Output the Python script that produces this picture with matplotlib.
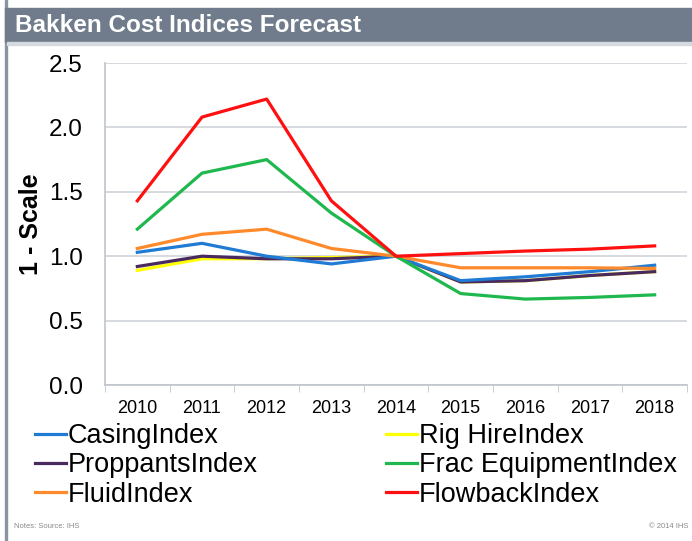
import matplotlib
matplotlib.use('Agg')
import matplotlib.pyplot as plt
from matplotlib.patches import Rectangle
from matplotlib.lines import Line2D

plt.rcParams['font.family'] = ['Liberation Sans', 'DejaVu Sans']

years = ['2010', '2011', '2012', '2013', '2014', '2015', '2016', '2017', '2018']
rig_hire = [0.89, 0.98, 0.98, 0.99, 1.00, 0.80, 0.81, 0.85, 0.88]
proppants = [0.92, 1.00, 0.98, 0.98, 1.00, 0.80, 0.81, 0.85, 0.88]
casing = [1.03, 1.10, 1.00, 0.94, 1.00, 0.81, 0.84, 0.88, 0.93]
fluid = [1.06, 1.17, 1.21, 1.06, 1.00, 0.91, 0.91, 0.91, 0.905]
frac = [1.21, 1.645, 1.75, 1.335, 1.00, 0.71, 0.667, 0.68, 0.70]
flowback = [1.43, 2.08, 2.22, 1.43, 1.00, 1.02, 1.04, 1.055, 1.08]

W, H = 692, 541
fig = plt.figure(figsize=(W / 100, H / 100), dpi=100)

# frame and title bar
fig.patches.append(Rectangle((5 / W, 0), 2 / W, 1, transform=fig.transFigure,
                             color='#8a95a3', zorder=0))
fig.patches.append(Rectangle((5 / W, 1 - 42 / H), 1, 34 / H, transform=fig.transFigure,
                             color='#707c8b', zorder=1))
fig.patches.append(Rectangle((7 / W, 1 - 45 / H), 1, 3 / H, transform=fig.transFigure,
                             color='#d5dae0', zorder=1))
fig.text(15 / W, 1 - 25 / H, 'Bakken Cost Indices Forecast', color='white',
         fontsize=17.5, fontweight='bold', va='center', ha='left')

ax = fig.add_axes([105 / W, (H - 385) / H, (687 - 105) / W, (385 - 63) / H])
x = range(len(years))
ax.plot(x, rig_hire, color='#ffff00', lw=2.3, label='Rig HireIndex')
ax.plot(x, proppants, color='#4a2a5e', lw=2.3, label='ProppantsIndex')
ax.plot(x, casing, color='#1f7bd3', lw=2.3, label='CasingIndex')
ax.plot(x, fluid, color='#ff8a2b', lw=2.3, label='FluidIndex')
ax.plot(x, frac, color='#1fb84e', lw=2.3, label='Frac EquipmentIndex')
ax.plot(x, flowback, color='#ff1010', lw=2.3, label='FlowbackIndex')

ax.set_xlim(-0.5, len(years) - 0.5)
ax.set_ylim(0, 2.5)
ax.set_yticks([0, 0.5, 1.0, 1.5, 2.0, 2.5])
ax.set_yticklabels(['0.0', '0.5', '1.0', '1.5', '2.0', '2.5'], fontsize=17.5)
ax.set_xticks(list(x))
ax.set_xticklabels(years, fontsize=13)
ax.set_xticks([i - 0.5 for i in range(len(years) + 1)], minor=True)
ax.tick_params(axis='x', which='major', length=0, pad=11)
ax.tick_params(axis='x', which='minor', length=5, color='#bfc5cc', direction='out')
ax.tick_params(axis='y', length=0, pad=16)
ax.grid(axis='y', color='#d3d7dc', lw=1.3)
ax.set_axisbelow(True)
for s in ['top', 'right']:
    ax.spines[s].set_visible(False)
for s in ['left', 'bottom']:
    ax.spines[s].set_color('#bfc5cc')
    ax.spines[s].set_linewidth(1.2)
ax.set_ylabel('1 - Scale', fontsize=18, fontweight='bold', labelpad=4)

h = {l.get_label(): l for l in ax.get_lines()}
order = ['CasingIndex', 'ProppantsIndex', 'FluidIndex',
         'Rig HireIndex', 'Frac EquipmentIndex', 'FlowbackIndex']
fig.legend([Line2D([], [], color=h[k].get_color(), lw=2.3) for k in order], order,
           ncol=2, loc='upper left', bbox_to_anchor=(35 / W, 1 - 423 / H),
           frameon=False, fontsize=19.5, handlelength=1.15, handletextpad=0.05,
           columnspacing=4.75, labelspacing=0.12, borderaxespad=0, borderpad=0)

fig.text(14 / W, 1 - 527 / H, 'Notes: Source: IHS', fontsize=5.5, color='#8a8a8a', va='center')
fig.text(688 / W, 1 - 527 / H, '\u00a9 2014 IHS', fontsize=5.5, color='#8a8a8a',
         va='center', ha='right')

fig.savefig('out.png', dpi=100)
